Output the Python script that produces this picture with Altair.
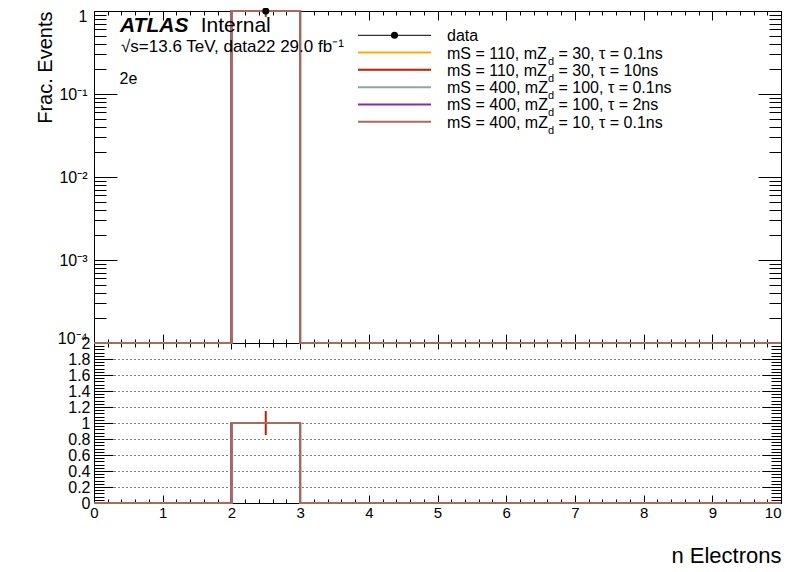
import altair as alt
import pandas as pd

# ---------------- values ----------------
bin_edges = [0, 1, 2, 3, 4, 5, 6, 7, 8, 9, 10]
bin_centers = [0.5, 1.5, 2.5, 3.5, 4.5, 5.5, 6.5, 7.5, 8.5, 9.5]

sig_mS = [110, 110, 400, 400, 400]
sig_mZd = [30, 30, 100, 100, 10]
sig_tau = ["0.1", "10", "0.1", "2", "0.1"]
sig_colors = ["#ffa90e", "#bd1f01", "#94a4a2", "#832db6", "#a96b59"]

# fraction of events per number-of-electrons bin
frac_110_30_01 = [0, 0, 1, 0, 0, 0, 0, 0, 0, 0]
frac_110_30_10 = [0, 0, 1, 0, 0, 0, 0, 0, 0, 0]
frac_400_100_01 = [0, 0, 1, 0, 0, 0, 0, 0, 0, 0]
frac_400_100_2 = [0, 0, 1, 0, 0, 0, 0, 0, 0, 0]
frac_400_10_01 = [0, 0, 1, 0, 0, 0, 0, 0, 0, 0]
sig_frac = [frac_110_30_01, frac_110_30_10, frac_400_100_01, frac_400_100_2, frac_400_10_01]

# ratio panel
ratio_110_30_01 = [0, 0, 1, 0, 0, 0, 0, 0, 0, 0]
ratio_110_30_10 = [0, 0, 1, 0, 0, 0, 0, 0, 0, 0]
ratio_400_100_01 = [0, 0, 1, 0, 0, 0, 0, 0, 0, 0]
ratio_400_100_2 = [0, 0, 1, 0, 0, 0, 0, 0, 0, 0]
ratio_400_10_01 = [0, 0, 1, 0, 0, 0, 0, 0, 0, 0]
sig_ratio = [ratio_110_30_01, ratio_110_30_10, ratio_400_100_01, ratio_400_100_2, ratio_400_10_01]

# statistical uncertainty visible for the tau = 10 ns sample
err_110_30_10 = [0, 0, 0.15, 0, 0, 0, 0, 0, 0, 0]

data_frac = [0, 0, 1, 0, 0, 0, 0, 0, 0, 0]

# axis tick values
x_major = [0, 1, 2, 3, 4, 5, 6, 7, 8, 9, 10]
x_minor = [i / 5 for i in range(51)]
top_major = [1e-4, 1e-3, 1e-2, 1e-1, 1]
top_minor = [m * 10.0 ** k for k in (-4, -3, -2, -1) for m in range(2, 10)]
bot_major = [0, 0.2, 0.4, 0.6, 0.8, 1.0, 1.2, 1.4, 1.6, 1.8, 2.0]
bot_grid = [0.2, 0.4, 0.6, 0.8, 1.0, 1.2, 1.4, 1.6, 1.8]
bot_minor = [round(i * 0.04, 2) for i in range(51)]

FONT = "Liberation Sans"

# ---------------- layout ----------------
W, H = 687, 492
H_TOP = 332
X_SCALE = alt.Scale(domain=[0, 10], nice=False, zero=False)
T_SCALE = alt.Scale(type="log", domain=[1e-4, 1], range=[H_TOP, 0], nice=False)
B_SCALE = alt.Scale(domain=[0, 2], range=[H, H_TOP], nice=False, zero=False)
L_SCALE = alt.Scale(domain=[0, 5], range=[24.3, 110.7], nice=False, zero=False)

dummy = pd.DataFrame({"x": [5.0], "y": [0.5]})


def axis_layer(yscale, xaxis=None, yaxis=None):
    return alt.Chart(dummy).mark_point(opacity=0).encode(
        x=alt.X("x:Q", scale=X_SCALE, axis=xaxis),
        y=alt.Y("y:Q", scale=yscale, axis=yaxis),
    )


def tick_axis(orient, offset, values, size, domain=False):
    return alt.Axis(orient=orient, offset=offset, values=values, tickSize=size,
                    ticks=True, labels=False, domain=domain, grid=False,
                    title=None, tickColor="black", tickWidth=1,
                    domainColor="black", domainWidth=1)


x_label_axis = alt.Axis(
    orient="bottom", values=x_major, ticks=False, tickSize=0, domain=False, grid=False,
    labelFontSize=15, labelPadding=2, labelFlush=False, labelFont=FONT,
    labelAlign={"condition": {"test": "datum.value == 10", "value": "right"}, "value": "center"},
    title="n Electrons", titleFontSize=22, titleFont=FONT, titleFontWeight="normal",
    titleX=W, titleY=59, titleAlign="right", titleBaseline="alphabetic", titleAngle=0,
)
top_label_axis = alt.Axis(
    orient="left", values=top_major, ticks=False, tickSize=0, domain=False, grid=False,
    labelFontSize=16, labelPadding=7, labelFont=FONT,
    labelExpr="datum.value >= 0.99 ? '1' : '10' + ['', '⁻¹', '⁻²', '⁻³', '⁻⁴'][round(-log(datum.value) / LN10)]",
    labelBaseline={"condition": [{"test": "datum.value >= 0.99", "value": "top"},
                                 {"test": "datum.value < 0.0005", "value": "alphabetic"}],
                   "value": "middle"},
    labelOffset={"condition": {"test": "datum.value >= 0.99", "value": -3}, "value": 0},
    title="Frac. Events", titleFontSize=20, titleFont=FONT, titleFontWeight="normal",
    titleX=-43, titleY=0, titleAngle=270, titleAlign="right", titleBaseline="alphabetic",
)
bot_label_axis = alt.Axis(
    orient="left", values=bot_major, ticks=False, tickSize=0, domain=False, grid=False,
    labelFontSize=16, labelPadding=4, labelFont=FONT, format="~g", title=None,
)
bot_grid_axis = alt.Axis(
    orient="left", values=bot_grid, ticks=False, labels=False, domain=False, grid=True,
    gridColor="black", gridDash=[1, 3], gridWidth=1, title=None,
)

layers = [
    axis_layer(T_SCALE, x_label_axis, top_label_axis),
    axis_layer(B_SCALE, tick_axis("top", -H, x_major, 8), bot_label_axis),
    axis_layer(B_SCALE, tick_axis("top", -H, x_minor, 4), bot_grid_axis),
    axis_layer(T_SCALE, tick_axis("top", -H_TOP, x_major, 9, domain=True), tick_axis("right", -W, top_major, 23)),
    axis_layer(T_SCALE, tick_axis("top", -H_TOP, x_minor, 4), tick_axis("right", -W, top_minor, 12)),
    axis_layer(T_SCALE, tick_axis("bottom", -(H - H_TOP), x_major, 6), tick_axis("left", -W, top_major, 23)),
    axis_layer(T_SCALE, tick_axis("bottom", -(H - H_TOP), x_minor, 4), tick_axis("left", -W, top_minor, 12)),
    axis_layer(B_SCALE, tick_axis("bottom", -H, x_major, 9), tick_axis("right", -W, bot_major, 19)),
    axis_layer(B_SCALE, tick_axis("bottom", -H, x_minor, 4), tick_axis("right", -W, bot_minor, 10)),
    axis_layer(B_SCALE, None, tick_axis("left", -W, bot_major, 19)),
    axis_layer(B_SCALE, None, tick_axis("left", -W, bot_minor, 10)),
]


def step_frame(values):
    rows = []
    for i, e in enumerate(bin_edges):
        rows.append({"x": e, "v": values[min(i, len(values) - 1)]})
    return pd.DataFrame(rows)


# ---- upper panel: histograms
for vals, col in zip(sig_frac, sig_colors):
    layers.append(
        alt.Chart(step_frame(vals)).mark_line(interpolate="step-after", color=col, strokeWidth=2)
        .transform_calculate(yc="max(datum.v, 1e-4)")
        .encode(x=alt.X("x:Q", scale=X_SCALE, axis=None), y=alt.Y("yc:Q", scale=T_SCALE, axis=None))
    )

err_df = pd.DataFrame({"x": bin_centers, "v": frac_110_30_10, "e": err_110_30_10})
layers.append(
    alt.Chart(err_df).mark_rule(color=sig_colors[1], strokeWidth=2, clip=True)
    .transform_filter("datum.e > 0")
    .transform_calculate(lo="datum.v - datum.e", hi="datum.v + datum.e")
    .encode(x=alt.X("x:Q", scale=X_SCALE, axis=None),
            y=alt.Y("lo:Q", scale=T_SCALE, axis=None), y2="hi:Q")
)

data_df = pd.DataFrame({"x": bin_centers, "v": data_frac})
layers.append(
    alt.Chart(data_df).mark_circle(color="black", size=50, opacity=1)
    .transform_filter("datum.v > 0")
    .encode(x=alt.X("x:Q", scale=X_SCALE, axis=None), y=alt.Y("v:Q", scale=T_SCALE, axis=None))
)

# ---- lower panel: ratios
rerr_df = pd.DataFrame({"x": bin_centers, "v": ratio_110_30_10, "e": err_110_30_10})
layers.append(
    alt.Chart(rerr_df).mark_rule(color=sig_colors[1], strokeWidth=2)
    .transform_filter("datum.e > 0")
    .transform_calculate(lo="datum.v - datum.e", hi="datum.v + datum.e")
    .encode(x=alt.X("x:Q", scale=X_SCALE, axis=None),
            y=alt.Y("lo:Q", scale=B_SCALE, axis=None), y2="hi:Q")
)
for vals, col in zip(sig_ratio, sig_colors):
    layers.append(
        alt.Chart(step_frame(vals)).mark_line(interpolate="step-after", color=col, strokeWidth=2)
        .encode(x=alt.X("x:Q", scale=X_SCALE, axis=None), y=alt.Y("v:Q", scale=B_SCALE, axis=None))
    )

# ---- legend
leg_rows = [0, 1, 2, 3, 4, 5]
leg_a = ["data"] + [f"mS = {m}, mZ" for m in sig_mS]
leg_sub = [""] + ["d" for _ in sig_mS]
leg_b = [""] + [f"= {z}, τ = {t}ns" for z, t in zip(sig_mZd, sig_tau)]
leg_col = ["black"] + sig_colors
leg_df = pd.DataFrame({"row": leg_rows, "a": leg_a, "sub": leg_sub, "b": leg_b, "col": leg_col})

ly = alt.Y("row:Q", scale=L_SCALE, axis=None)
layers.append(
    alt.Chart(leg_df).mark_rule(strokeWidth=1).transform_filter("datum.row == 0")
    .encode(x=alt.value(264), x2=alt.value(337), y=ly, color=alt.Color("col:N", scale=None))
)
layers.append(
    alt.Chart(leg_df).mark_rule(strokeWidth=2).transform_filter("datum.row > 0")
    .encode(x=alt.value(264), x2=alt.value(337), y=ly, color=alt.Color("col:N", scale=None))
)
layers.append(
    alt.Chart(leg_df).mark_circle(color="black", size=50, opacity=1).transform_filter("datum.row == 0")
    .encode(x=alt.value(300.5), y=ly)
)
layers.append(
    alt.Chart(leg_df).mark_text(font=FONT, fontSize=16, align="left", baseline="alphabetic", dy=6, color="black")
    .encode(x=alt.value(353), y=ly, text="a:N")
)
layers.append(
    alt.Chart(leg_df).mark_text(font=FONT, fontSize=11, align="left", baseline="alphabetic", dy=12, color="black")
    .encode(x=alt.value(454), y=ly, text="sub:N")
)
layers.append(
    alt.Chart(leg_df).mark_text(font=FONT, fontSize=16, align="left", baseline="alphabetic", dy=6, color="black")
    .encode(x=alt.value(464.5), y=ly, text="b:N")
)

# ---- labels
def label(text, x, y, size, **kw):
    return alt.Chart(pd.DataFrame({"t": [text]})).mark_text(
        font=FONT, fontSize=size, align="left", baseline="alphabetic", color="black", **kw
    ).encode(x=alt.value(x), y=alt.value(y), text="t:N")


layers.append(label("ATLAS", 26, 20.7, 21, fontStyle="italic", fontWeight="bold"))
layers.append(label("Internal", 106.7, 20.7, 21))
layers.append(label("√s=13.6 TeV, data22 29.0 fb⁻¹", 27, 40.7, 17))
layers.append(label("2e", 25.5, 73, 16))

chart = (
    alt.layer(*layers)
    .resolve_scale(y="independent")
    .resolve_axis(x="independent", y="independent")
    .properties(width=W, height=H, autosize=alt.AutoSizeParams(type="none"),
                padding={"left": 86, "top": 3, "right": 7, "bottom": 61})
    .configure_view(stroke="black", strokeWidth=1)
    .configure_axis(labelColor="black", titleColor="black", tickColor="black", domainColor="black")
)

chart.save("out.html", embed_options={"renderer": "svg", "actions": False})
